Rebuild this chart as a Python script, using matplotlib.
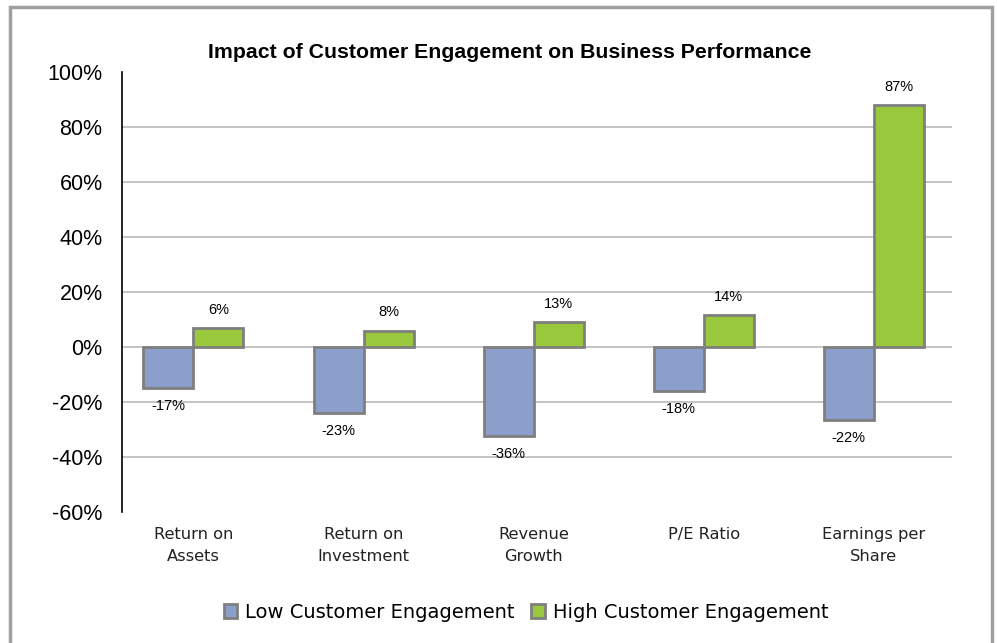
import numpy as np
import matplotlib.pyplot as plt
from matplotlib.patches import Patch, Rectangle

categories = ['Return on\nAssets', 'Return on\nInvestment', 'Revenue\nGrowth',
              'P/E Ratio', 'Earnings per\nShare']
low_vals = [-15, -24, -32.5, -16, -26.5]
high_vals = [7, 6, 9, 11.5, 88]
low_labels = ['-17%', '-23%', '-36%', '-18%', '-22%']
high_labels = ['6%', '8%', '13%', '14%', '87%']
yticks = [-60, -40, -20, 0, 20, 40, 60, 80, 100]

low_color = '#8C9FCB'
high_color = '#9AC83C'
edge = '#7F7F7F'

fig = plt.figure(figsize=(9.97, 6.43), dpi=100)
W, H = 997, 643
ax = fig.add_axes([122 / W, (H - 512) / H, 830 / W, 440 / H])

x = np.arange(len(categories))
bw = 0.294
ax.bar(x - bw / 2, low_vals, bw, color=low_color, edgecolor=edge, linewidth=2, zorder=3)
ax.bar(x + bw / 2, high_vals, bw, color=high_color, edgecolor=edge, linewidth=2, zorder=3)

for xi, v, s in zip(x, low_vals, low_labels):
    ax.annotate(s, (xi - bw / 2, v), xytext=(0, -18), textcoords='offset pixels',
                ha='center', va='center', fontsize=10.5, family='Liberation Sans')
for xi, v, s in zip(x, high_vals, high_labels):
    ax.annotate(s, (xi + bw / 2, v), xytext=(0, 18), textcoords='offset pixels',
                ha='center', va='center', fontsize=10.5, family='Liberation Sans')

for t in yticks[1:-1]:
    ax.axhline(t, color='#BFBFBF', linewidth=1.3, zorder=1)

ax.set_xlim(-0.42, 4.46)
ax.set_ylim(-60, 100)
ax.set_yticks(yticks)
ax.set_yticklabels([f'{t}%' for t in yticks], fontsize=15.5, family='Liberation Sans')
ax.set_xticks(x)
ax.set_xticklabels(categories, fontsize=11.7, family='DejaVu Sans', color='#222222',
                   linespacing=1.6)
ax.tick_params(axis='y', length=0, pad=14)
ax.tick_params(axis='x', length=0, pad=11)
for s in ['top', 'right', 'bottom']:
    ax.spines[s].set_visible(False)
ax.spines['left'].set_linewidth(1.2)

fig.text(510 / W, 1 - 52 / H, 'Impact of Customer Engagement on Business Performance',
         ha='center', va='center', fontsize=15.3, fontweight='bold', family='Liberation Sans')

handles = [Patch(facecolor=low_color, edgecolor=edge, linewidth=2),
           Patch(facecolor=high_color, edgecolor=edge, linewidth=2)]
fig.legend(handles, ['Low Customer Engagement', 'High Customer Engagement'],
           loc='center', bbox_to_anchor=(526 / W, 1 - 612 / H), ncol=2, frameon=False,
           prop={'family': 'DejaVu Sans', 'size': 14},
           handlelength=0.7, handleheight=0.7, handletextpad=0.4, columnspacing=0.85)

fig.patches.append(Rectangle((10 / W, -0.05), 982 / W, 1.05 - 7 / H, transform=fig.transFigure,
                             fill=False, edgecolor='#A0A0A0', linewidth=2.5))

fig.savefig('out.png', dpi=100)
